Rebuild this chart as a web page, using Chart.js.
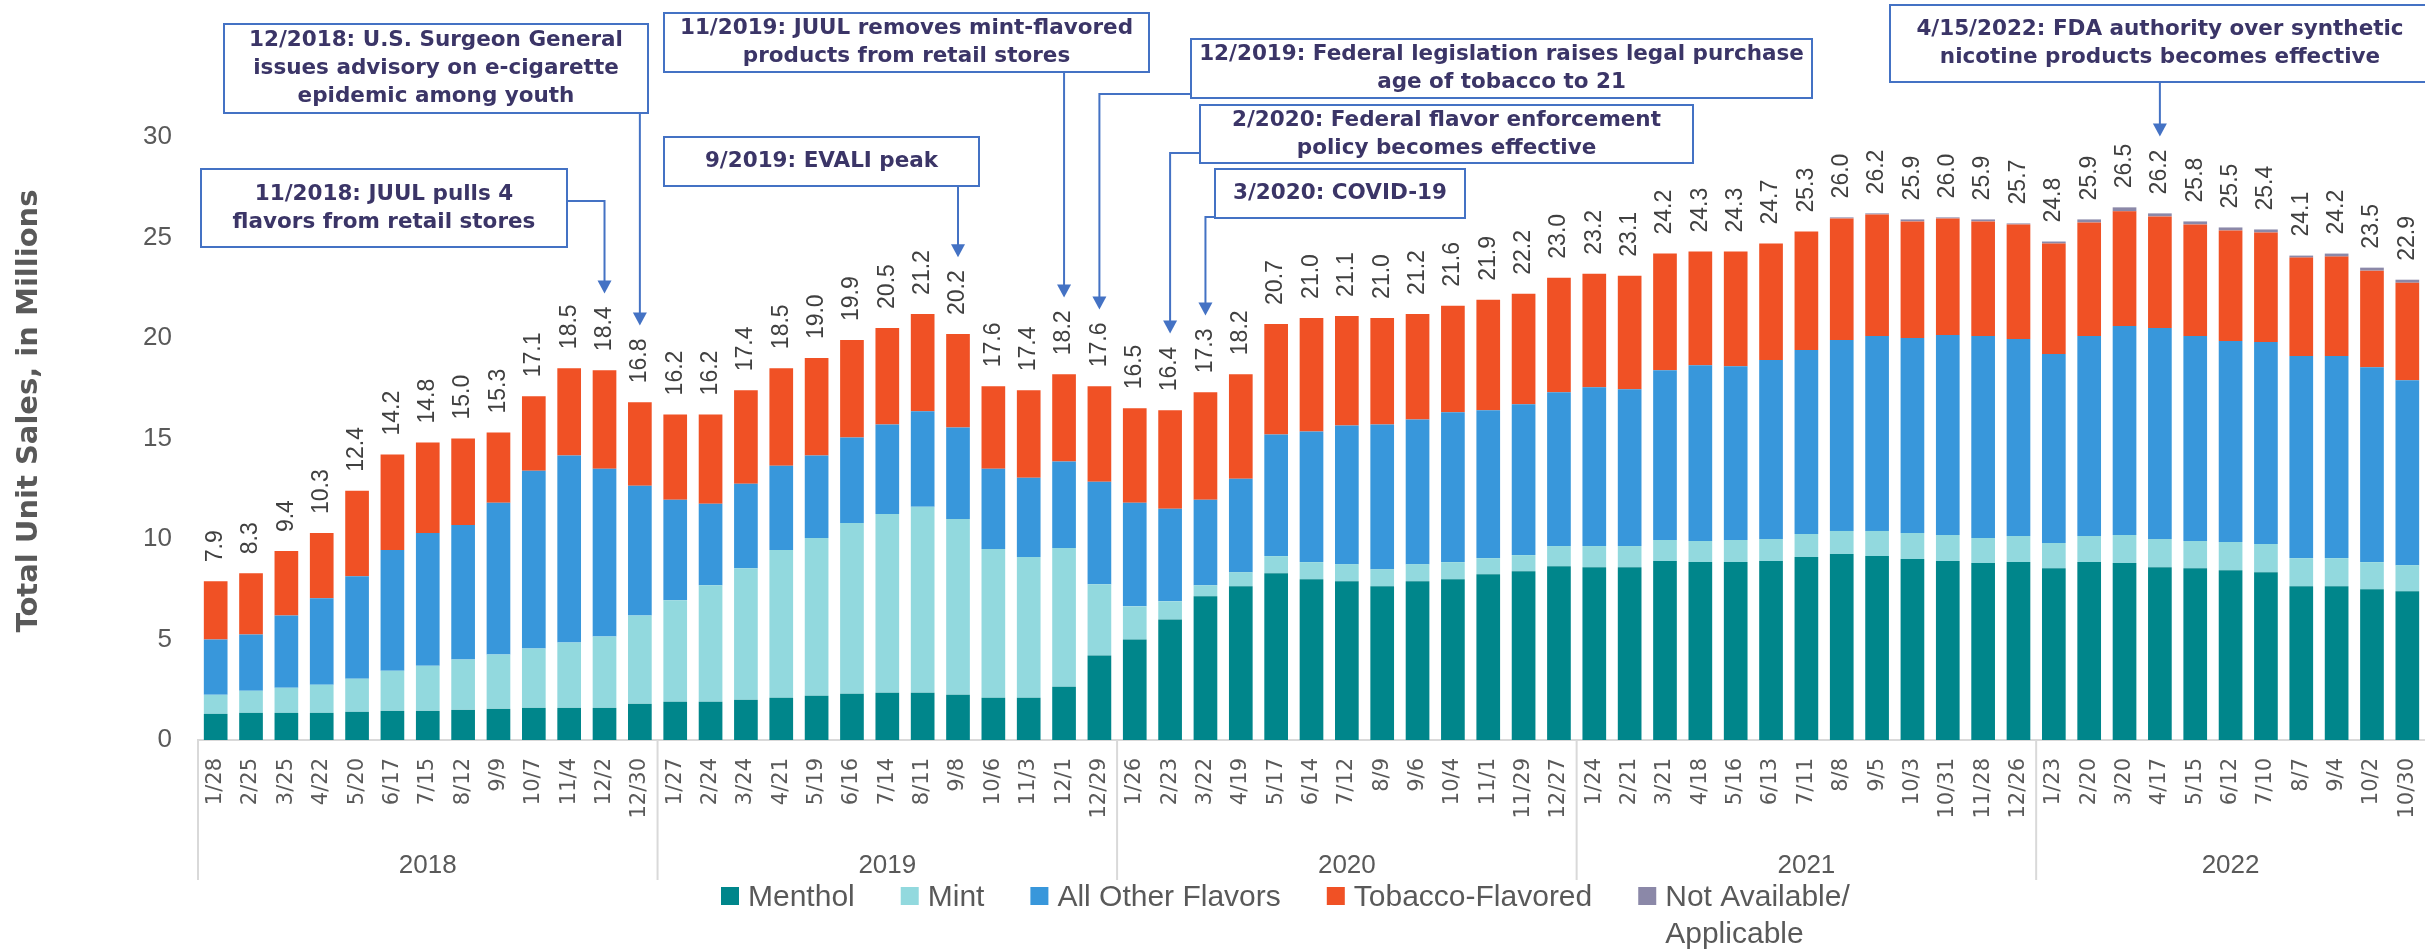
<!DOCTYPE html>
<html>
<head>
  <title>E-cigarette Unit Sales by Flavor</title>
  <script src="https://cdn.jsdelivr.net/npm/chart.js"></script>
  <style>
    body { margin: 0; background: #fff; }
  </style>
</head>
<body>
  <canvas id="salesChart" width="2425" height="949"></canvas>
  <script>
    // four-week periods ending on these dates, grouped by year
    const dateLabels = [
      '1/28', '2/25', '3/25', '4/22', '5/20', '6/17', '7/15', '8/12', '9/9', '10/7', '11/4', '12/2', '12/30',
      '1/27', '2/24', '3/24', '4/21', '5/19', '6/16', '7/14', '8/11', '9/8', '10/6', '11/3', '12/1', '12/29',
      '1/26', '2/23', '3/22', '4/19', '5/17', '6/14', '7/12', '8/9', '9/6', '10/4', '11/1', '11/29', '12/27',
      '1/24', '2/21', '3/21', '4/18', '5/16', '6/13', '7/11', '8/8', '9/5', '10/3', '10/31', '11/28', '12/26',
      '1/23', '2/20', '3/20', '4/17', '5/15', '6/12', '7/10', '8/7', '9/4', '10/2', '10/30'
    ];
    const years = ['2018', '2019', '2020', '2021', '2022'];
    const periodsPerYear = [13, 13, 13, 13, 11];

    // total unit sales, millions (the labels on top of the bars)
    const totals = [
      7.9, 8.3, 9.4, 10.3, 12.4, 14.2, 14.8, 15.0, 15.3, 17.1, 18.5, 18.4, 16.8,
      16.2, 16.2, 17.4, 18.5, 19.0, 19.9, 20.5, 21.2, 20.2, 17.6, 17.4, 18.2, 17.6,
      16.5, 16.4, 17.3, 18.2, 20.7, 21.0, 21.1, 21.0, 21.2, 21.6, 21.9, 22.2, 23.0,
      23.2, 23.1, 24.2, 24.3, 24.3, 24.7, 25.3, 26.0, 26.2, 25.9, 26.0, 25.9, 25.7,
      24.8, 25.9, 26.5, 26.2, 25.8, 25.5, 25.4, 24.1, 24.2, 23.5, 22.9
    ];
    const menthol = [
      1.3, 1.35, 1.35, 1.35, 1.4, 1.45, 1.45, 1.5, 1.55, 1.6, 1.6, 1.6, 1.8,
      1.9, 1.9, 2.0, 2.1, 2.2, 2.3, 2.35, 2.35, 2.25, 2.1, 2.1, 2.65, 4.2,
      5.0, 6.0, 7.15, 7.65, 8.3, 8.0, 7.9, 7.65, 7.9, 8.0, 8.25, 8.4, 8.65,
      8.6, 8.6, 8.9, 8.85, 8.85, 8.9, 9.1, 9.25, 9.15, 9.0, 8.9, 8.8, 8.85,
      8.55, 8.85, 8.8, 8.6, 8.55, 8.45, 8.35, 7.65, 7.65, 7.5, 7.4
    ];
    const mint = [
      0.95, 1.1, 1.25, 1.4, 1.65, 2.0, 2.25, 2.5, 2.7, 2.95, 3.25, 3.55, 4.4,
      5.05, 5.8, 6.55, 7.35, 7.85, 8.5, 8.9, 9.25, 8.75, 7.4, 7.0, 6.9, 3.55,
      1.65, 0.9, 0.55, 0.7, 0.85, 0.85, 0.85, 0.85, 0.85, 0.85, 0.8, 0.8, 1.0,
      1.05, 1.05, 1.05, 1.05, 1.1, 1.1, 1.15, 1.15, 1.25, 1.3, 1.3, 1.25, 1.3,
      1.25, 1.3, 1.4, 1.4, 1.35, 1.4, 1.4, 1.4, 1.4, 1.35, 1.3
    ];
    const otherFlavors = [
      2.75, 2.8, 3.6, 4.3, 5.1, 6.0, 6.6, 6.7, 7.55, 8.85, 9.3, 8.35, 6.45,
      5.0, 4.05, 4.2, 4.2, 4.1, 4.25, 4.45, 4.75, 4.55, 4.0, 3.95, 4.3, 5.1,
      5.15, 4.6, 4.25, 4.65, 6.05, 6.5, 6.9, 7.2, 7.2, 7.45, 7.35, 7.5, 7.65,
      7.9, 7.8, 8.45, 8.75, 8.65, 8.9, 9.15, 9.5, 9.7, 9.7, 9.95, 10.05, 9.8,
      9.4, 9.95, 10.4, 10.5, 10.2, 10.0, 10.05, 10.05, 10.05, 9.7, 9.2
    ];
    const tobacco = [
      2.9, 3.05, 3.2, 3.25, 4.25, 4.75, 4.5, 4.3, 3.5, 3.7, 4.35, 4.9, 4.15,
      4.25, 4.45, 4.65, 4.85, 4.85, 4.85, 4.8, 4.85, 4.65, 4.1, 4.35, 4.35, 4.75,
      4.7, 4.9, 5.35, 5.2, 5.5, 5.65, 5.45, 5.3, 5.25, 5.3, 5.5, 5.5, 5.7,
      5.65, 5.65, 5.8, 5.65, 5.7, 5.8, 5.9, 6.05, 6.05, 5.8, 5.8, 5.7, 5.7,
      5.5, 5.65, 5.7, 5.55, 5.55, 5.5, 5.45, 4.9, 4.95, 4.8, 4.85
    ];
    const notAvailable = [
      0, 0, 0, 0, 0, 0, 0, 0, 0, 0, 0, 0, 0,
      0, 0, 0, 0, 0, 0, 0, 0, 0, 0, 0, 0, 0,
      0, 0, 0, 0, 0, 0, 0, 0, 0, 0, 0, 0, 0,
      0, 0, 0, 0, 0, 0, 0, 0.05, 0.05, 0.1, 0.05, 0.1, 0.05,
      0.1, 0.15, 0.2, 0.15, 0.15, 0.15, 0.15, 0.1, 0.15, 0.15, 0.15
    ];

    // event call-outs: box in pixels, arrow points at a bar index
    const annotations = [
      { lines: ['12/2018: U.S. Surgeon General', 'issues advisory on e-cigarette', 'epidemic among youth'],
        box: [224, 24, 424, 89], bar: 12, from: 'bottom' },
      { lines: ['11/2018: JUUL pulls 4', 'flavors from retail stores'],
        box: [201, 169, 366, 78], bar: 11, from: 'right', joinY: 201 },
      { lines: ['9/2019: EVALI peak'],
        box: [664, 137, 315, 49], bar: 21, from: 'bottom' },
      { lines: ['11/2019: JUUL removes mint-flavored', 'products from retail stores'],
        box: [664, 13, 485, 59], bar: 24, from: 'bottom' },
      { lines: ['12/2019: Federal legislation raises legal purchase', 'age of tobacco to 21'],
        box: [1191, 39, 621, 59], bar: 25, from: 'left', joinY: 94 },
      { lines: ['2/2020: Federal flavor enforcement', 'policy becomes effective'],
        box: [1200, 105, 493, 58], bar: 27, from: 'left', joinY: 153 },
      { lines: ['3/2020: COVID-19'],
        box: [1215, 169, 250, 49], bar: 28, from: 'left', joinY: 217 },
      { lines: ['4/15/2022: FDA authority over synthetic', 'nicotine products becomes effective'],
        box: [1890, 5, 540, 77], bar: 55, from: 'bottom' }
    ];

    const LABEL_FONT = '23px "Liberation Sans"';
    const LABEL_GAP = 19;

    function drawAxisTitle(chart) {
      const { ctx } = chart;
      ctx.save();
      ctx.translate(29, 411);
      ctx.rotate(-Math.PI / 2);
      ctx.font = 'bold 29px "DejaVu Sans"';
      ctx.fillStyle = '#595959';
      ctx.textAlign = 'center';
      ctx.textBaseline = 'middle';
      ctx.fillText('Total Unit Sales, in Millions', 0, 0);
      ctx.restore();
    }

    function drawYears(chart) {
      const { ctx, scales: { x } } = chart;
      const step = x.getPixelForValue(1) - x.getPixelForValue(0);
      const base = chart.chartArea.bottom;
      ctx.save();
      ctx.strokeStyle = '#d9d9d9';
      ctx.lineWidth = 2;
      ctx.fillStyle = '#595959';
      ctx.font = '26px "Liberation Sans"';
      ctx.textAlign = 'center';
      ctx.textBaseline = 'alphabetic';
      let start = 0;
      years.forEach((yr, k) => {
        const left = x.getPixelForValue(start) - step / 2;
        ctx.beginPath();
        ctx.moveTo(left, base);
        ctx.lineTo(left, base + 140);
        ctx.stroke();
        const mid = left + periodsPerYear[k] * step / 2;
        ctx.fillText(yr, mid, base + 133);
        start += periodsPerYear[k];
      });
      ctx.restore();
    }

    function drawAnnotations(chart) {
      const { ctx, scales: { x, y } } = chart;
      ctx.save();
      annotations.forEach(a => {
        const [bx, by, bw, bh] = a.box;
        const ax = x.getPixelForValue(a.bar);
        ctx.font = LABEL_FONT;
        const labelLen = ctx.measureText(totals[a.bar].toFixed(1)).width;
        const tipY = y.getPixelForValue(totals[a.bar]) - LABEL_GAP - labelLen - 13;

        ctx.strokeStyle = '#4472c4';
        ctx.fillStyle = '#4472c4';
        ctx.lineWidth = 2;
        ctx.beginPath();
        if (a.from === 'bottom') {
          ctx.moveTo(ax, by + bh);
        } else {
          ctx.moveTo(a.from === 'left' ? bx : bx + bw, a.joinY);
          ctx.lineTo(ax, a.joinY);
        }
        ctx.lineTo(ax, tipY - 12);
        ctx.stroke();
        ctx.beginPath();
        ctx.moveTo(ax - 7, tipY - 13);
        ctx.lineTo(ax + 7, tipY - 13);
        ctx.lineTo(ax, tipY);
        ctx.closePath();
        ctx.fill();

        ctx.fillStyle = '#ffffff';
        ctx.fillRect(bx, by, bw, bh);
        ctx.strokeRect(bx, by, bw, bh);

        ctx.fillStyle = '#3b3567';
        ctx.font = 'bold 21.5px "DejaVu Sans"';
        ctx.textAlign = 'center';
        ctx.textBaseline = 'middle';
        const y0 = by + bh / 2 - (a.lines.length - 1) * 14;
        a.lines.forEach((ln, j) => ctx.fillText(ln, bx + bw / 2, y0 + j * 28));
      });
      ctx.restore();
    }

    function drawLegend(chart) {
      const { ctx } = chart;
      ctx.save();
      ctx.font = '30px "Liberation Sans"';
      ctx.textAlign = 'left';
      ctx.textBaseline = 'alphabetic';
      let px = 721;
      const baseY = 906;
      chart.data.datasets.forEach(ds => {
        ctx.fillStyle = ds.backgroundColor;
        ctx.fillRect(px, baseY - 19, 18, 18);
        ctx.fillStyle = '#595959';
        const lines = ds.label.split('\n');
        let w = 0;
        lines.forEach((ln, j) => {
          ctx.fillText(ln, px + 27, baseY + j * 37);
          w = Math.max(w, ctx.measureText(ln).width);
        });
        px += 27 + w + 46;
      });
      ctx.restore();
    }

    const overlay = {
      id: 'overlay',
      afterDatasetsDraw(chart) {
        const { ctx, scales: { x, y } } = chart;
        ctx.save();
        ctx.font = LABEL_FONT;
        ctx.fillStyle = '#404040';
        ctx.textAlign = 'left';
        ctx.textBaseline = 'middle';
        totals.forEach((t, i) => {
          ctx.save();
          ctx.translate(x.getPixelForValue(i), y.getPixelForValue(t) - LABEL_GAP);
          ctx.rotate(-Math.PI / 2);
          ctx.fillText(t.toFixed(1), 0, 0);
          ctx.restore();
        });
        ctx.restore();
      },
      afterDraw(chart) {
        drawAxisTitle(chart);
        drawYears(chart);
        drawAnnotations(chart);
        drawLegend(chart);
      }
    };

    function series(label, data, color) {
      return { label: label, data: data, backgroundColor: color, barPercentage: 0.67, categoryPercentage: 1.0 };
    }

    Chart.defaults.color = '#595959';
    new Chart(document.getElementById('salesChart'), {
      type: 'bar',
      data: {
        labels: dateLabels,
        datasets: [
          series('Menthol', menthol, '#00868b'),
          series('Mint', mint, '#92d9de'),
          series('All Other Flavors', otherFlavors, '#3897db'),
          series('Tobacco-Flavored', tobacco, '#f05125'),
          series('Not Available/\nApplicable', notAvailable, '#8b88a8')
        ]
      },
      options: {
        responsive: false,
        animation: false,
        devicePixelRatio: 1,
        layout: { padding: { top: 137, right: 0, bottom: 0, left: 0 } },
        plugins: { legend: { display: false }, tooltip: { enabled: false } },
        scales: {
          x: {
            stacked: true,
            grid: { display: false, drawTicks: false },
            border: { color: '#d9d9d9', width: 2 },
            ticks: {
              autoSkip: false, maxRotation: 90, minRotation: 90, padding: 18,
              font: { family: 'DejaVu Sans', size: 21 }, color: '#595959'
            },
            afterFit(scale) { scale.height = 209; scale.paddingLeft = 0; scale.paddingRight = 0; }
          },
          y: {
            stacked: true,
            min: 0, max: 30,
            grid: { display: false, drawTicks: false },
            border: { display: false },
            ticks: {
              stepSize: 5, padding: 26,
              font: { family: 'Liberation Sans', size: 26 }, color: '#595959'
            },
            afterFit(scale) { scale.width = 198; }
          }
        }
      },
      plugins: [overlay]
    });
  </script>
</body>
</html>
